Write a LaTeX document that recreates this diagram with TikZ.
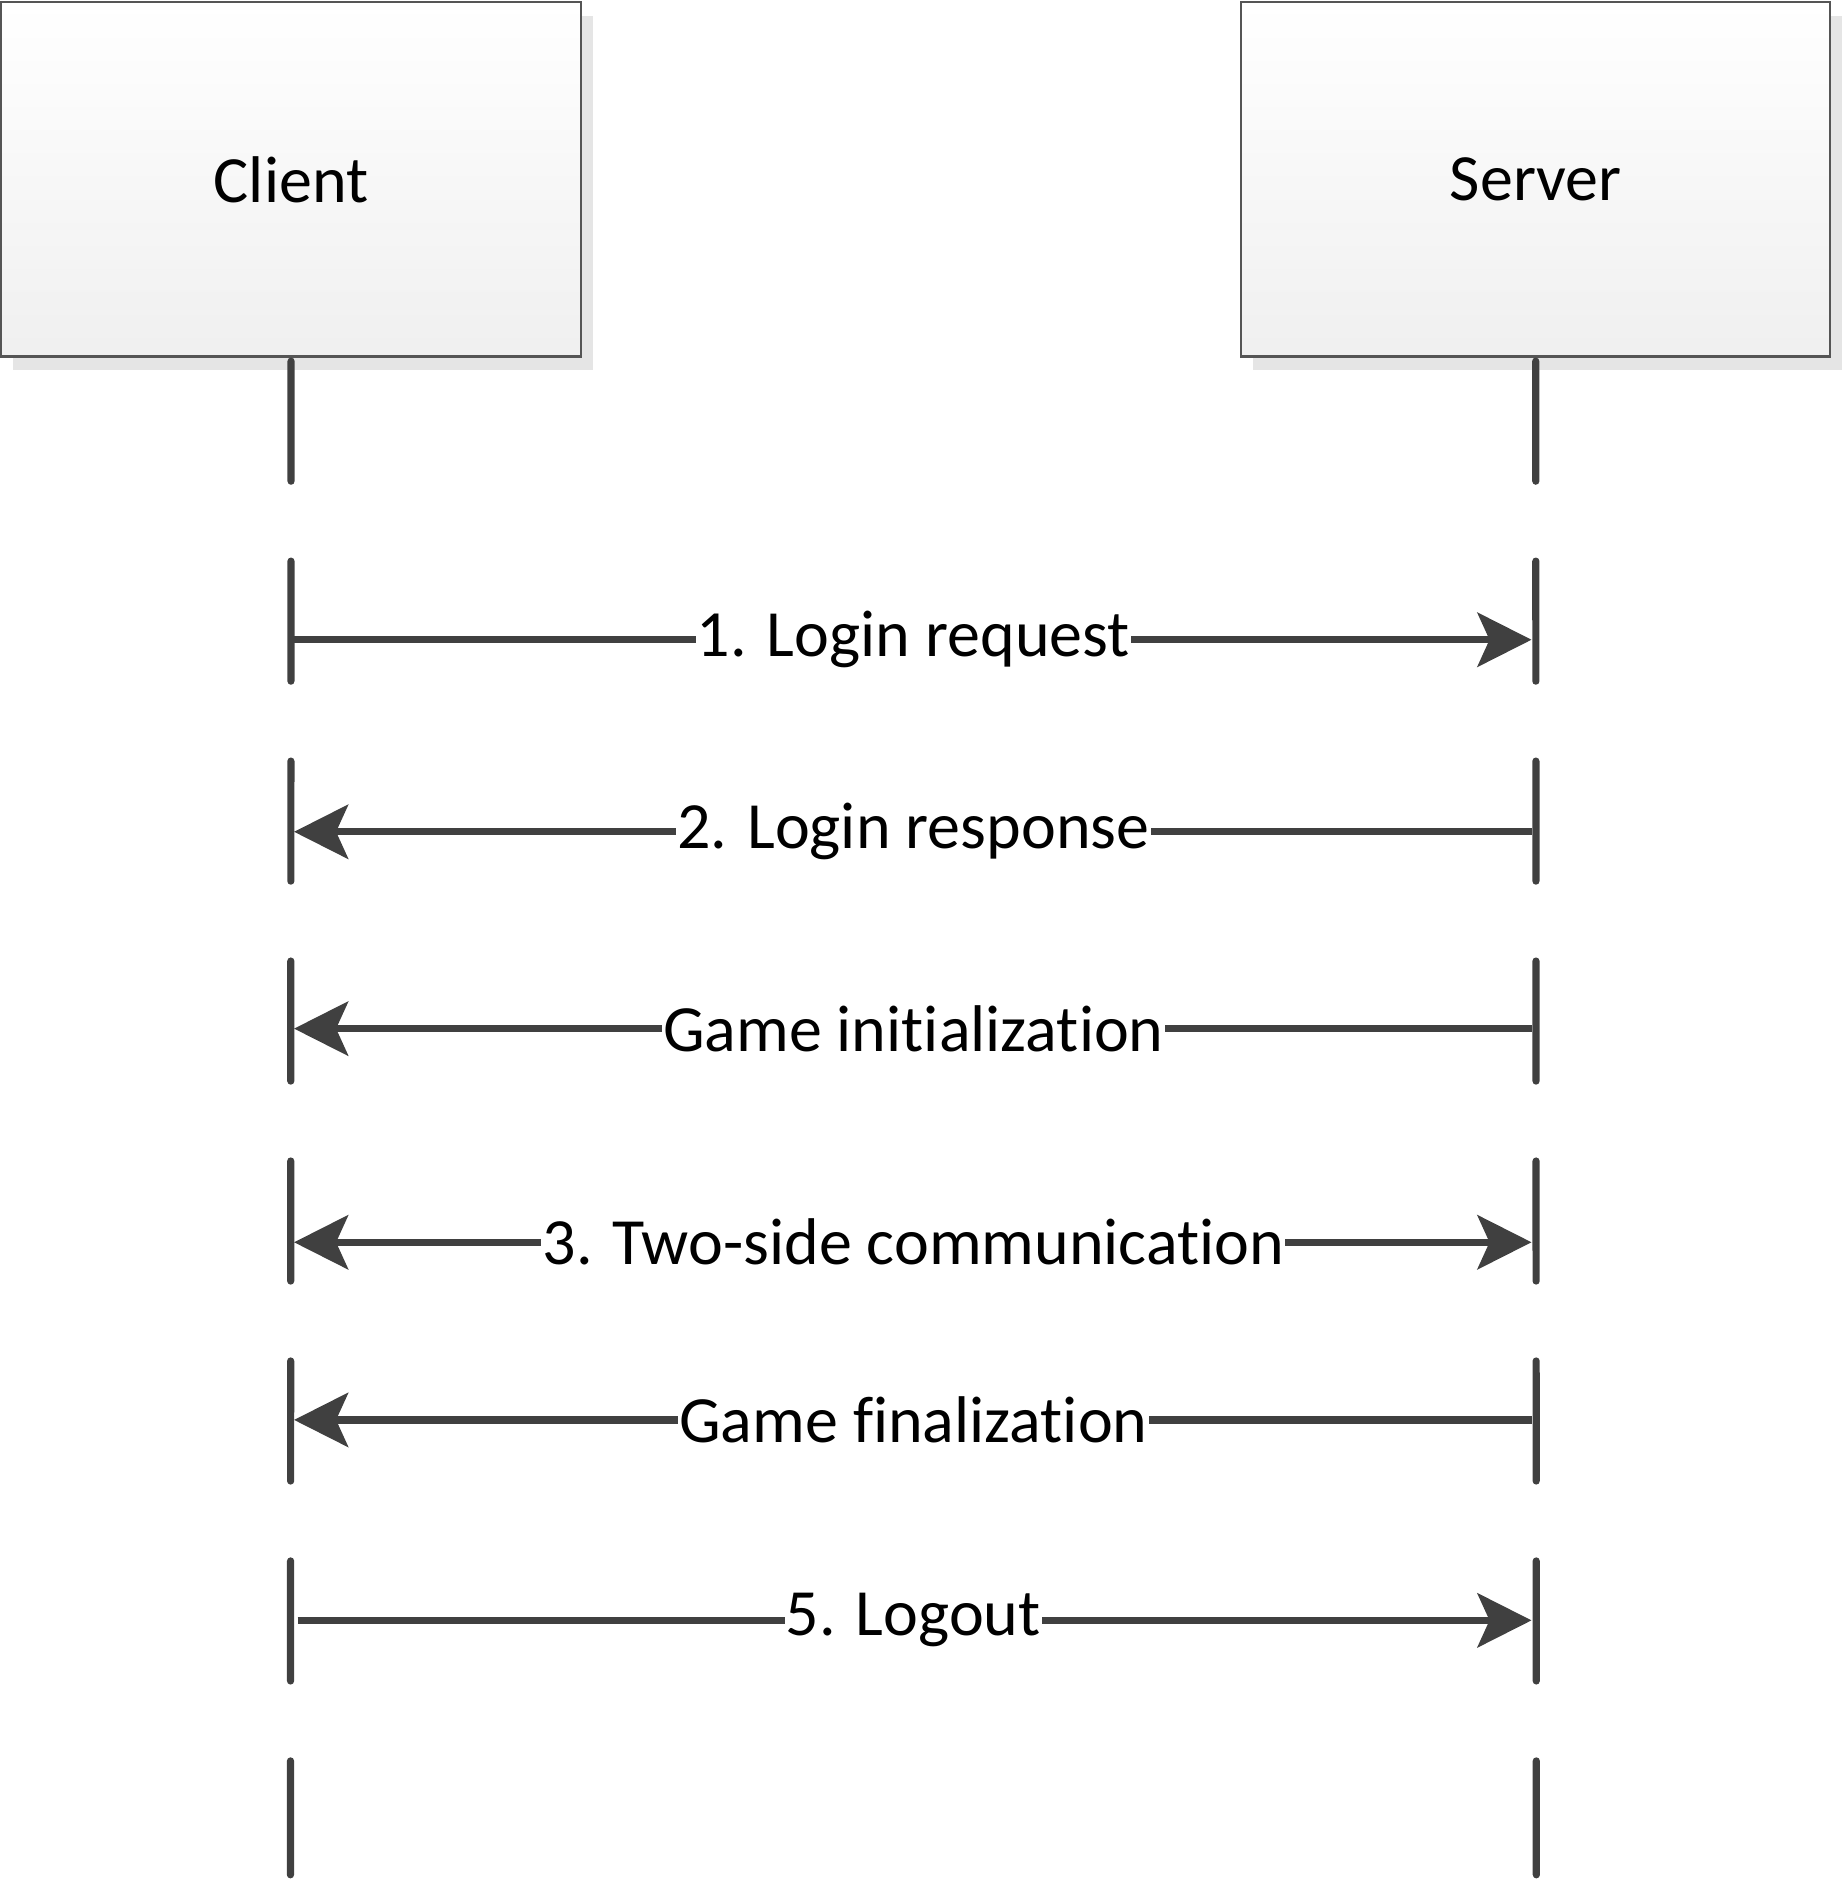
\documentclass[tikz,border=0pt]{standalone}
\usepackage{fontspec}
\setmainfont{Carlito}[Ligatures=NoCommon]
\usetikzlibrary{arrows.meta,shadows}

\definecolor{linegray}{HTML}{404040}
\definecolor{boxborder}{HTML}{555555}
\definecolor{shadowgray}{HTML}{E5E5E5}

\tikzstyle{actor}=[rectangle, draw=boxborder, line width=1.8pt, minimum width=483pt, minimum height=295pt, top color=white, bottom color=black!6, drop shadow={shadow xshift=10pt, shadow yshift=-11pt, fill=shadowgray, opacity=1}, font=\fontsize{55}{66}\selectfont]
\tikzstyle{lifeline}=[draw=linegray, line width=6pt, line cap=round, dash pattern=on 100pt off 66.6pt]
\tikzstyle{msg}=[draw=linegray, line width=6pt, shorten >=4pt, shorten <=3pt]
\tikzstyle{msglabel}=[fill=white, inner sep=1pt, font=\fontsize{55}{66}\selectfont]

\begin{document}
\begin{tikzpicture}[x=1pt, y=-1pt, >={Stealth[length=45pt, width=45pt, inset=10pt]}]
        \useasboundingbox (0, 0) rectangle (1537, 1568);

        \node[actor](client) at (242.5, 149.5) {Client};
        \node[actor, minimum width=491pt](server) at (1279.5, 149.5) {Server};

        \coordinate (cend) at (242, 1562);
        \coordinate (send) at (1280, 1562);

        % lifelines
        \draw[lifeline] ([yshift=-3pt]client.south) -- (cend);
        \draw[lifeline] ([yshift=-3pt]server.south) -- (send);

        \coordinate (c1) at (242, 533);
        \coordinate (s1) at (1280, 533);
        \coordinate (c2) at (242, 693);
        \coordinate (s2) at (1280, 693);
        \coordinate (c3) at (242, 857);
        \coordinate (s3) at (1280, 857);
        \coordinate (c4) at (242, 1035);
        \coordinate (s4) at (1280, 1035);
        \coordinate (c5) at (242, 1183);
        \coordinate (s5) at (1280, 1183);
        \coordinate (c6) at (242, 1350);
        \coordinate (s6) at (1280, 1350);

        % messages
        \draw[msg, ->] (c1) -- node[msglabel] {1. Login request} (s1);
        \draw[msg, <-] (c2) -- node[msglabel] {2. Login response} (s2);
        \draw[msg, <-] (c3) -- node[msglabel] {Game initialization} (s3);
        \draw[msg, <->] (c4) -- node[msglabel] {3. Two-side communication} (s4);
        \draw[msg, <-] (c5) -- node[msglabel] {Game finalization} (s5);
        \draw[msg, ->, shorten <=6pt] (c6) -- node[msglabel] {5. Logout} (s6);
    \end{tikzpicture}
\end{document}
